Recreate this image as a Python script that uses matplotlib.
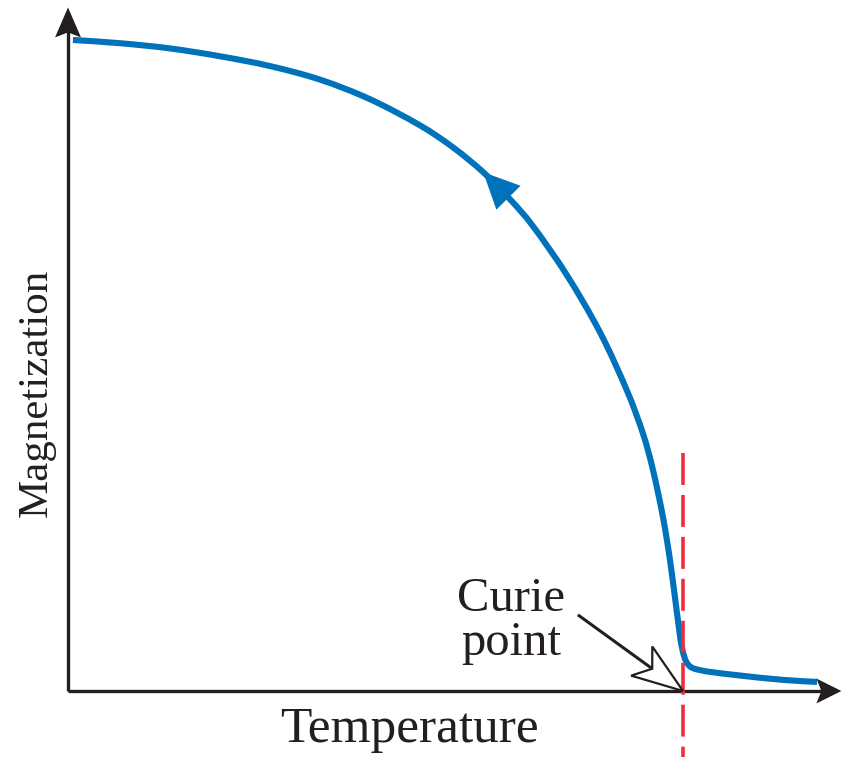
import numpy as np
import matplotlib.pyplot as plt
from matplotlib.patches import Polygon, PathPatch
from matplotlib.path import Path
from matplotlib.transforms import ScaledTranslation

plt.rcParams['font.family'] = ['Liberation Serif', 'DejaVu Serif']
plt.rcParams['lines.scale_dashes'] = False

# Magnetization vs. temperature (temperature in units of the Curie temperature,
# magnetization in units of the saturation value)
temperature = [0.008, 0.085, 0.166, 0.247, 0.328, 0.410, 0.491, 0.572, 0.626,
               0.675, 0.719, 0.756, 0.811, 0.865, 0.909, 0.935, 0.951, 0.967,
               0.979, 0.990, 0.998, 1.008, 1.028, 1.081, 1.163, 1.218]
magnetization = [1.000, 0.995, 0.987, 0.975, 0.960, 0.939, 0.909, 0.869, 0.835,
                 0.797, 0.755, 0.714, 0.639, 0.551, 0.461, 0.395, 0.340, 0.269,
                 0.200, 0.121, 0.068, 0.041, 0.032, 0.025, 0.017, 0.014]
curie_temperature = 1.0

# index of the curve point carrying the direction arrow
arrow_index = 9

x_label = "Temperature"
y_label = "Magnetization"
curie_label = "Curie\npoint"

BLUE = '#0072bc'
RED = '#ee2e3e'
INK = '#231f20'

DPI = 100
fig = plt.figure(figsize=(8.42, 7.57), dpi=DPI)
ax = fig.add_axes([0, 0, 1, 1])
ax.set_xlim(-0.1106, 1.2585)
ax.set_ylim(-0.1014, 1.0614)
ax.axis('off')

x_axis_end = 1.2575
y_axis_end = 1.0500


def arrow_head(tip, direction, length, half_width, notch, face, edge=None,
               lw=0.0, zorder=5):
    """Draw an arrowhead (sizes in pixels) with its point at `tip` (data)."""
    d = np.asarray(direction, dtype=float)
    u = d / np.hypot(*d)
    n = np.array([-u[1], u[0]])
    verts = np.array([[0.0, 0.0],
                      -length * u + half_width * n,
                      -notch * u,
                      -length * u - half_width * n]) / DPI
    trans = fig.dpi_scale_trans + ScaledTranslation(tip[0], tip[1], ax.transData)
    poly = Polygon(verts, closed=True, transform=trans, facecolor=face,
                   edgecolor=edge if edge else face, linewidth=lw,
                   joinstyle='miter', zorder=zorder)
    ax.add_patch(poly)


def display_vec(p_from, p_to):
    a = ax.transData.transform(p_from)
    b = ax.transData.transform(p_to)
    return b - a


def smooth_path(xs, ys):
    """Cubic Bezier path passing through every point (Catmull-Rom tangents)."""
    p = np.column_stack([xs, ys]).astype(float)
    ext = np.vstack([p[0], p, p[-1]])
    verts = [p[0]]
    codes = [Path.MOVETO]
    for i in range(len(p) - 1):
        p0, p1, p2, p3 = ext[i], ext[i + 1], ext[i + 2], ext[i + 3]
        verts += [p1 + (p2 - p0) / 6.0, p2 - (p3 - p1) / 6.0, p2]
        codes += [Path.CURVE4] * 3
    return Path(np.array(verts), codes)


# axes with arrowheads
ax.plot([0, 0], [0, y_axis_end - 0.03], color=INK, lw=2.4,
        solid_capstyle='butt', zorder=2)
ax.plot([0, x_axis_end - 0.03], [0, 0], color=INK, lw=2.4,
        solid_capstyle='butt', zorder=2)
arrow_head((0, y_axis_end), (0, 1), 30, 13, 25, INK, zorder=3)
arrow_head((x_axis_end, 0), (1, 0), 25, 12.5, 20, INK, zorder=3)

# magnetization curve
ax.add_patch(PathPatch(smooth_path(temperature, magnetization), facecolor='none',
                       edgecolor=BLUE, lw=4.4, capstyle='butt',
                       joinstyle='round', zorder=4))
tip_pt = (temperature[arrow_index], magnetization[arrow_index])
base_pt = (temperature[arrow_index + 1], magnetization[arrow_index + 1])
arrow_head(tip_pt, display_vec(base_pt, tip_pt), 36, 17, 36, BLUE, zorder=4)

# Curie temperature marker
ax.plot([curie_temperature, curie_temperature], [0.3656, -0.1014],
        color=RED, lw=2.6, dashes=(23, 7.2), solid_capstyle='butt',
        dash_capstyle='butt', zorder=6)

# Curie point annotation: hollow arrow pointing at (Tc, 0)
tail = (0.829, 0.117)
tip = (curie_temperature, 0.0)
vec = display_vec(tail, tip)
tip_px = ax.transData.transform(tip)
unit = vec / np.hypot(*vec)
neck = ax.transData.inverted().transform(tip_px - 38 * unit)
ax.plot([tail[0], neck[0]], [tail[1], neck[1]], color=INK, lw=2.2,
        solid_capstyle='butt', zorder=7)
arrow_head(tip, vec, 51, 18, 38, 'white', edge=INK, lw=1.6, zorder=7)

# labels
ax.text(0.5545, -0.0784, x_label, fontsize=37, color=INK,
        ha='center', va='baseline')
ax.text(-0.034, 0.458, y_label, fontsize=31, color=INK, rotation=90,
        rotation_mode='anchor', ha='center', va='baseline')
ax.text(0.721, 0.055, curie_label, fontsize=35, color=INK, ha='center',
        va='baseline', multialignment='center', linespacing=1.0)

fig.savefig('out.png', dpi=DPI)
